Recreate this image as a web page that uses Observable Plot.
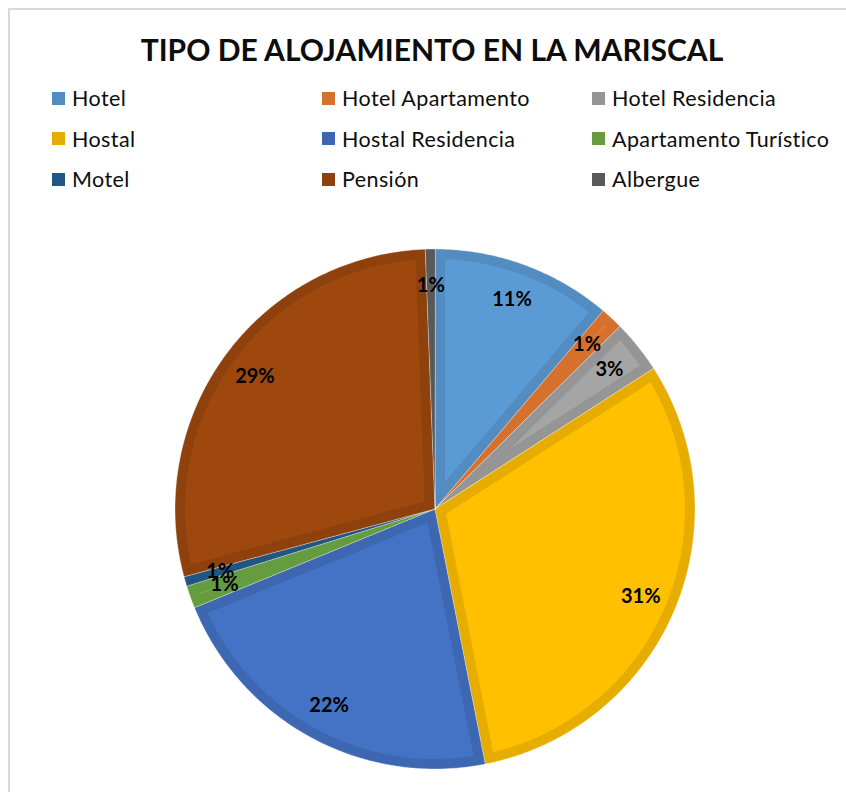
<!DOCTYPE html>
<html>
<head>
<meta charset="utf-8">
<script src="https://cdn.jsdelivr.net/npm/d3@7"></script>
<script src="https://cdn.jsdelivr.net/npm/@observablehq/plot@0.6"></script>
<style>
  html, body { margin: 0; padding: 0; background: #fff; overflow: hidden; }
  #root { position: relative; width: 846px; height: 792px; overflow: hidden; background: #fff; }
  #frame { position: absolute; left: 8px; top: 8px; width: 900px; height: 900px; border: 2px solid #d9d9d9; box-sizing: border-box; }
  #title { position: absolute; left: 9px; width: 846px; top: 31px; text-align: center; font-family: Lato, sans-serif; font-weight: 700; font-size: 30px; line-height: 36px; color: #0d0d0d; white-space: nowrap; }
  #legend { position: absolute; left: 52px; top: 78px; display: grid; grid-template-columns: 270px 270px 270px; grid-auto-rows: 40.5px; font-family: Lato, sans-serif; font-size: 21.5px; letter-spacing: 0.4px; color: #0d0d0d; }
  .item { display: flex; align-items: center; white-space: nowrap; }
  .sw { width: 13px; height: 13px; margin-right: 7px; flex: none; }
  #chart { position: absolute; left: 0; top: 215px; }
</style>
</head>
<body>
<div id="root">
  <div id="frame"></div>
  <div id="title">TIPO DE ALOJAMIENTO EN LA MARISCAL</div>
  <div id="legend"></div>
  <div id="chart"></div>
</div>
<script>
// ---- data ----
const categories = ["Hotel", "Hotel Apartamento", "Hotel Residencia", "Hostal", "Hostal Residencia", "Apartamento Turístico", "Motel", "Pensión", "Albergue"];
const shares = [11.2, 1.4, 3.3, 31.0, 21.9, 1.4, 0.6, 28.6, 0.6];
// ---- style ----
const palette = ["#5B9BD5", "#ED7D31", "#A5A5A5", "#FFC000", "#4472C4", "#70AD47", "#255E91", "#9E480E", "#636363"];

function shade(c, k) {
  const r = d3.rgb(c);
  return d3.rgb(r.r * k, r.g * k, r.b * k).formatHex();
}
const edges = palette.map(c => shade(c, 0.9));

// legend
const legend = document.getElementById("legend");
categories.forEach((name, i) => {
  const it = document.createElement("div");
  it.className = "item";
  const sw = document.createElement("span");
  sw.className = "sw";
  sw.style.background = edges[i];
  const tx = document.createElement("span");
  tx.textContent = name;
  it.appendChild(sw); it.appendChild(tx);
  legend.appendChild(it);
});

// pie geometry
const W = 846, H = 577, cx = 434.5, cy = 293.5, R = 260;
const border = 10 / R; // inset width in unit radius
const rows = categories.map((name, i) => ({name, share: shares[i], fill: palette[i], edge: edges[i]}));
const arcs = d3.pie().sort(null).value(d => d.share)(rows);
const total = d3.sum(shares);

function arcPoints(a0, a1, rho) {
  const n = Math.max(2, Math.ceil((a1 - a0) / (Math.PI / 360)));
  const pts = [];
  for (let k = 0; k <= n; k++) {
    const a = a0 + (a1 - a0) * k / n;
    pts.push([rho * Math.sin(a), rho * Math.cos(a)]);
  }
  return pts;
}

const outer = [];
const inner = [];
const labels = [];
arcs.forEach((a, i) => {
  const d = a.data;
  const pts = [[0, 0], ...arcPoints(a.startAngle, a.endAngle, 1)];
  pts.forEach(([x, y]) => outer.push({key: d.name, x, y, c: d.edge}));
  const h = (a.endAngle - a.startAngle) / 2;
  const Ri = 1 - border;
  const off = Math.asin(border / Ri);
  const s = a.startAngle + off, e = a.endAngle - off;
  const apex = border / Math.sin(h);
  if (e > s && apex < Ri) {
    const mid = (a.startAngle + a.endAngle) / 2;
    const ipts = [[apex * Math.sin(mid), apex * Math.cos(mid)], ...arcPoints(s, e, Ri)];
    ipts.forEach(([x, y]) => inner.push({key: d.name, x, y, c: d.fill}));
  }
  const mid = (a.startAngle + a.endAngle) / 2;
  labels.push({x: 0.86 * Math.sin(mid), y: 0.86 * Math.cos(mid), t: Math.round(d.share / total * 100) + "%"});
});

const chart = Plot.plot({
  width: W,
  height: H,
  margin: 0,
  x: {domain: [-1, 1], range: [cx - R, cx + R], axis: null},
  y: {domain: [-1, 1], range: [cy + R, cy - R], axis: null},
  color: {type: "identity"},
  style: {background: "transparent", fontFamily: "Lato, sans-serif"},
  marks: [
    Plot.line(outer, {x: "x", y: "y", z: "key", fill: "c", stroke: "#ffffff", strokeWidth: 0.6, strokeOpacity: 0.6, curve: "linear-closed"}),
    Plot.line(inner, {x: "x", y: "y", z: "key", fill: "c", stroke: null, curve: "linear-closed"}),
    Plot.text(labels, {x: "x", y: "y", text: "t", fontSize: 20, fontWeight: "bold", fill: "#000", fontFamily: "Lato, sans-serif"})
  ]
});
document.getElementById("chart").appendChild(chart);
</script>
</body>
</html>
